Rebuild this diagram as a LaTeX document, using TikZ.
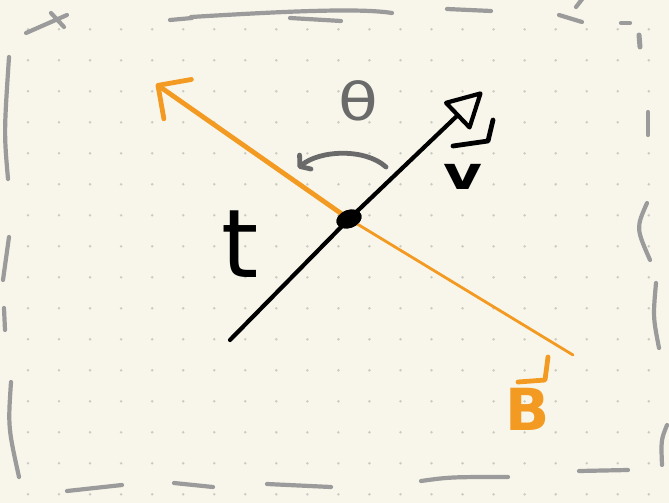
\documentclass[tikz,border=0pt]{standalone}
\usepackage{fontspec}
\setmainfont{DejaVu Sans}
\usetikzlibrary{arrows.meta,shapes.geometric}
\definecolor{paper}{HTML}{F8F6EA}
\definecolor{dotc}{HTML}{CBCBC5}
\definecolor{framec}{HTML}{9B9B9B}
\definecolor{angc}{HTML}{6A6A6A}
\definecolor{borange}{HTML}{F39A22}
\begin{document}
\begin{tikzpicture}[x=1pt,y=-1pt,line cap=round,line join=round,
  framestroke/.style={draw=framec,line width=4.2pt},
  vline/.style={draw=black,line width=4.2pt},
  bline/.style={draw=borange},
  lbl/.style={inner sep=0pt,outer sep=0pt},
  harp/.style={line width=4.8pt}]
\fill[paper] (0,0) rectangle (669,503);
\useasboundingbox (0,0) rectangle (669,503);
% dotted grid
\foreach \i in {0,...,20}{\foreach \j in {0,...,15}{\fill[dotc] ({28+31.04*\i},{29.3+31*\j}) circle (1.4pt);}}
% hand-drawn dashed frame
\draw[framestroke] (26,33)--(67,15);
\draw[framestroke] (51,13)--(64,27);
\draw[framestroke] (170,20)--(192,18);
\draw[framestroke] (191,17) .. controls (290,11) and (360,8) .. (392,13);
\draw[framestroke] (290,18)--(341,21);
\draw[framestroke] (447,9)--(491,11);
\draw[framestroke] (559,15)--(582,22);
\draw[framestroke] (576,7)--(583,-2);
\draw[framestroke] (621,23)--(630,23);
\draw[framestroke,line width=5pt] (639,35)--(640,47);
\draw[framestroke] (648,112)--(648,135);
\draw[framestroke] (647,203) .. controls (636,228) .. (650,260);
\draw[framestroke] (656,283) .. controls (653,317) .. (659,348);
\draw[framestroke] (667,425) .. controls (661,440) .. (662,465);
\draw[framestroke] (579,471)--(628,470);
\draw[framestroke] (421,481) .. controls (450,477) .. (508,477);
\draw[framestroke] (267,484)--(331,487);
\draw[framestroke] (174,483)--(213,487);
\draw[framestroke] (67,491)--(122,485);
\draw[framestroke] (11,382) .. controls (8,427) .. (19,477);
\draw[framestroke] (4,308)--(5,330);
\draw[framestroke] (9,237)--(3,280);
\draw[framestroke] (9,57) .. controls (4,133) .. (8,179);
% named points
\coordinate (vstart) at (230,340);
\coordinate (vtip) at (482,92);
\coordinate (bstart) at (573,355);
\coordinate (btip) at (156,84);
\coordinate (arcS) at (386,167);
\coordinate (arcE) at (298,168);
\node[ellipse,fill=black,minimum width=26pt,minimum height=18pt,inner sep=0pt,rotate=20] (dot) at (349,219) {};
% orange B line
\draw[bline,line width=2.8pt] (bstart) -- (dot.center);
\draw[bline,line width=4.8pt,-{Straight Barb[length=24pt,width=48pt,round]}] (dot.center) -- (btip);
% black v line
\draw[vline,-{Triangle[open,length=38pt,width=40pt,round]}] (vstart) -- (dot.center) -- (vtip);
\node[ellipse,fill=black,minimum width=26pt,minimum height=18pt,inner sep=0pt,rotate=20] at (dot) {};
% angle arc
\draw[draw=angc,line width=4.8pt,-{Straight Barb[length=7pt,width=18pt,round]}] (arcS) .. controls (365,148) and (320,150) .. (arcE);
% labels
\node[lbl,text=angc,font=\fontsize{52}{52}\selectfont] (theta) at (358,101) {\scalebox{1.25}[1]{θ}};
\node[lbl,font=\bfseries\fontsize{46}{46}\selectfont] (vlab) at (463,177) {\scalebox{1.3}[1]{v}};
\draw[harp] (453,146) -- (488,141) -- (493,120);
\node[lbl,text=borange,font=\bfseries\fontsize{58}{58}\selectfont] (blab) at (528,409) {B};
\draw[harp,draw=borange] (518,382) -- (545,380) -- (548,357);
\node[lbl,font=\fontsize{95}{95}\selectfont] (tlab) at (240,244) {t};
\end{tikzpicture}
\end{document}
